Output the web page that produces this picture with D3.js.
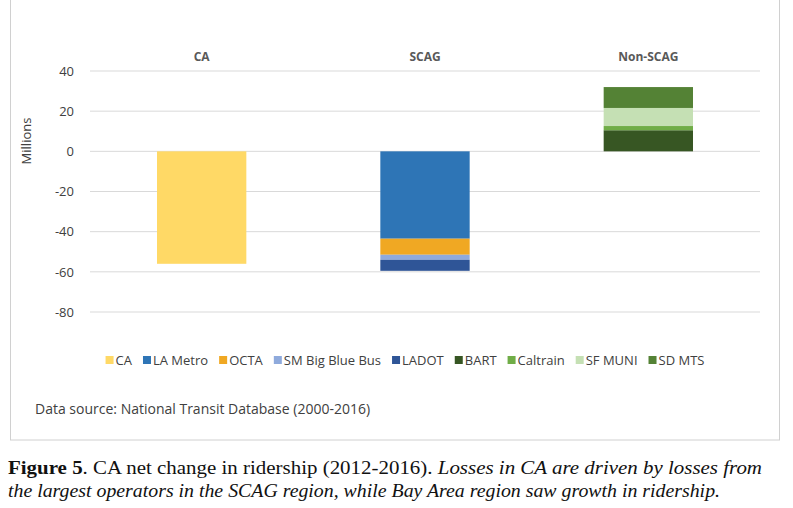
<!DOCTYPE html>
<html lang="en">
<head>
<meta charset="UTF-8">
<title>CA net change in ridership</title>
<script src="https://d3js.org/d3.v7.min.js"></script>
<style>
  body { margin: 0; background: #fff; }
  svg { display: block; }
</style>
</head>
<body>
<div id="chart"></div>
<script>
    // Regions and operators
    const categories = ["CA", "SCAG", "Non-SCAG"];
    const seriesNames = ["CA", "LA Metro", "OCTA", "SM Big Blue Bus", "LADOT", "BART", "Caltrain", "SF MUNI", "SD MTS"];
    const seriesColors = ["#ffd966", "#2e75b6", "#f0a823", "#8faadc", "#2f5597", "#375623", "#70ad47", "#c5e0b4", "#548235"];
    // values per series, one per category (millions)
    const caValues      = [-56, 0, 0];
    const laMetro       = [0, -43.5, 0];
    const octa          = [0, -8, 0];
    const smBigBlueBus  = [0, -2.5, 0];
    const ladot         = [0, -5.5, 0];
    const bart          = [0, 0, 10.5];
    const caltrain      = [0, 0, 2.1];
    const sfMuni        = [0, 0, 9];
    const sdMts         = [0, 0, 10.4];
    const yTicks = [40, 20, 0, -20, -40, -60, -80];

    const seriesValues = [caValues, laMetro, octa, smBigBlueBus, ladot, bart, caltrain, sfMuni, sdMts];

    const width = 793, height = 508;
    const font = "Open Sans, Liberation Sans, sans-serif";
    const svg = d3.select("#chart").append("svg")
        .attr("width", width).attr("height", height);

    // panel border
    svg.append("rect")
        .attr("x", 10.5).attr("y", -2).attr("width", 769).attr("height", 442)
        .attr("fill", "#fff").attr("stroke", "#d0d0d0");

    const x = d3.scaleBand().domain(categories).range([90, 760]).paddingInner(0.6).paddingOuter(0.3);
    const y = d3.scaleLinear().domain([-80, 40]).range([312, 71]);

    // gridlines
    svg.append("g").selectAll("line").data(yTicks).join("line")
        .attr("x1", 90).attr("x2", 760)
        .attr("y1", d => y(d)).attr("y2", d => y(d))
        .attr("stroke", "#d9d9d9").attr("stroke-width", 1);

    const yAxis = svg.append("g").attr("transform", "translate(82,0)")
        .call(d3.axisLeft(y).tickValues(yTicks).tickSize(0).tickPadding(8).tickFormat(d => String(d)));
    yAxis.select(".domain").remove();
    yAxis.selectAll("text").attr("font-family", font)
        .attr("font-size", 13).attr("fill", "#404040");

    svg.append("text")
        .attr("transform", "translate(31,141) rotate(-90)")
        .attr("text-anchor", "middle")
        .attr("font-family", font)
        .attr("font-size", 13).attr("fill", "#404040")
        .text("Millions");

    // category labels at top
    svg.append("g").selectAll("text").data(categories).join("text")
        .attr("x", d => x(d) + x.bandwidth() / 2).attr("y", 61)
        .attr("text-anchor", "middle")
        .attr("font-family", font)
        .attr("font-size", 12).attr("font-weight", "bold").attr("fill", "#595959")
        .text(d => d);

    // stacked bars (positive and negative separately)
    const bars = svg.append("g");
    categories.forEach((cat, ci) => {
        let pos = 0, neg = 0;
        seriesValues.forEach((vals, si) => {
            const v = vals[ci];
            if (!v) return;
            let y0, y1;
            if (v > 0) { y0 = pos; y1 = pos + v; pos = y1; }
            else { y0 = neg; y1 = neg + v; neg = y1; }
            bars.append("rect")
                .attr("x", x(cat)).attr("width", x.bandwidth())
                .attr("y", y(Math.max(y0, y1)))
                .attr("height", Math.abs(y(y0) - y(y1)))
                .attr("fill", seriesColors[si]);
        });
    });

    // legend
    const legend = svg.append("g").attr("font-family", font)
        .attr("font-size", 13).attr("fill", "#404040");
    let lx = 0;
    seriesNames.forEach((name, i) => {
        const g = legend.append("g");
        g.append("rect").attr("x", 0).attr("y", -4).attr("width", 8).attr("height", 8).attr("fill", seriesColors[i]);
        const t = g.append("text").attr("x", 10).attr("y", 4.5).text(name);
        const w = 10 + t.node().getComputedTextLength();
        g.attr("transform", `translate(${lx},0)`);
        lx += w + 11;
    });
    const legendWidth = lx - 11;
    legend.attr("transform", `translate(${(98 + 712) / 2 - legendWidth / 2},360)`);

    svg.append("text").attr("x", 35).attr("y", 414)
        .attr("font-family", font)
        .attr("font-size", 14).attr("fill", "#404040")
        .text("Data source: National Transit Database (2000-2016)");

    // caption
    const cap = svg.append("g").attr("font-family", "Liberation Serif, DejaVu Serif, serif")
        .attr("font-size", 19).attr("fill", "#111");
    const line1 = cap.append("text").attr("x", 8).attr("y", 474)
        .attr("textLength", 754).attr("lengthAdjust", "spacingAndGlyphs");
    line1.append("tspan").attr("font-weight", "bold").text("Figure 5");
    line1.append("tspan").text(". CA net change in ridership (2012-2016). ");
    line1.append("tspan").attr("font-style", "italic").text("Losses in CA are driven by losses from");
    cap.append("text").attr("x", 8).attr("y", 497).attr("font-style", "italic")
        .attr("textLength", 712).attr("lengthAdjust", "spacingAndGlyphs")
        .text("the largest operators in the SCAG region, while Bay Area region saw growth in ridership.");
</script>
</body>
</html>
